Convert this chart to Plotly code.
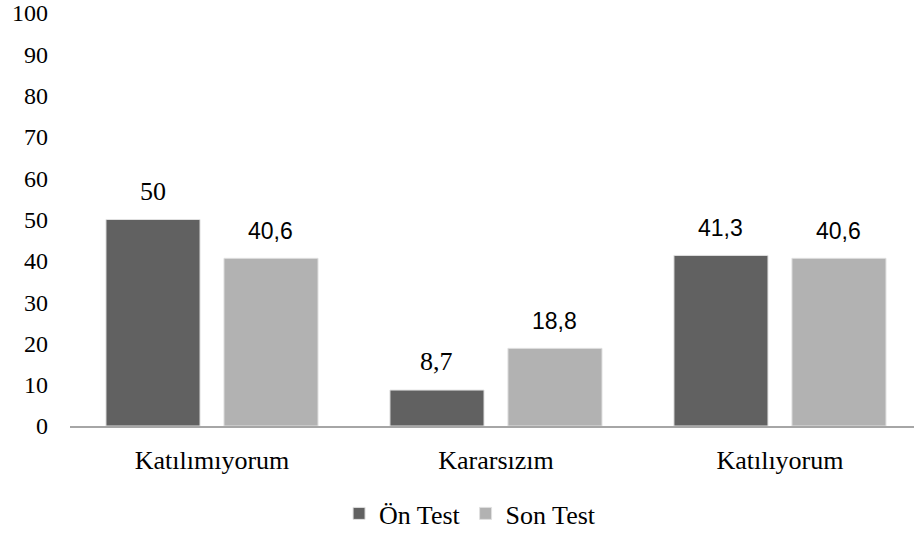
import plotly.graph_objs as go

# データ
categories = ["Katılımıyorum", "Kararsızım", "Katılıyorum"]
on_test = [50, 8.7, 41.3]
son_test = [40.6, 18.8, 40.6]
series_names = ["Ön Test", "Son Test"]
y_ticks = list(range(0, 101, 10))

# スタイル
SERIF = "Liberation Serif"
SANS = "Liberation Sans"
colors = ["#616161", "#b2b2b2"]
# 元の図ではラベルごとにフォントが異なる
label_fonts = [[SERIF, SERIF, SANS], [SANS, SANS, SANS]]


def fmt(v):
    return f"{v:g}".replace(".", ",")


fig = go.Figure()
for name, values, color in zip(series_names, [on_test, son_test], colors):
    fig.add_trace(go.Bar(
        x=categories,
        y=values,
        name=name,
        marker=dict(color=color, line=dict(color="#e0e0e0", width=1)),
    ))

# データラベル
annotations = []
for i, (values, fonts) in enumerate(zip([on_test, son_test], label_fonts)):
    shift = -59 if i == 0 else 59
    for cat, v, fam in zip(categories, values, fonts):
        annotations.append(dict(
            x=cat, y=v, text=fmt(v), showarrow=False,
            xshift=shift, yshift=12, yanchor="bottom",
            font=dict(family=fam, size=23 if fam == SANS else 26, color="#000000"),
        ))

fig.update_layout(
    width=914,
    height=537,
    margin=dict(l=70, r=0, t=13, b=102),
    paper_bgcolor="white",
    plot_bgcolor="white",
    barmode="group",
    bargap=0.169,
    bargroupgap=0.203,
    annotations=annotations,
    font=dict(family=SERIF, size=26, color="#000000"),
    showlegend=True,
    legend=dict(
        orientation="h",
        x=0.474,
        xanchor="center",
        y=-0.212,
        yanchor="middle",
        font=dict(family=SERIF, size=26),
        itemclick=False,
    ),
    xaxis=dict(
        type="category",
        range=[-0.5, 2.472],
        automargin=False,
        showline=True,
        linecolor="#a6a6a6",
        linewidth=1.5,
        showgrid=False,
        ticks="",
        ticklabelstandoff=10,
        tickfont=dict(family=SERIF, size=26),
    ),
    yaxis=dict(
        range=[0, 100],
        tickvals=y_ticks,
        automargin=False,
        showline=False,
        showgrid=False,
        zeroline=False,
        ticks="",
        ticklabelstandoff=21,
        ticklabeloverflow="allow",
        tickfont=dict(family=SERIF, size=24),
    ),
)

# ページ余白を消して図を左上に合わせる
fig.write_html(
    "out.html",
    config={"displayModeBar": False},
    post_script="document.body.style.margin='0';",
)
